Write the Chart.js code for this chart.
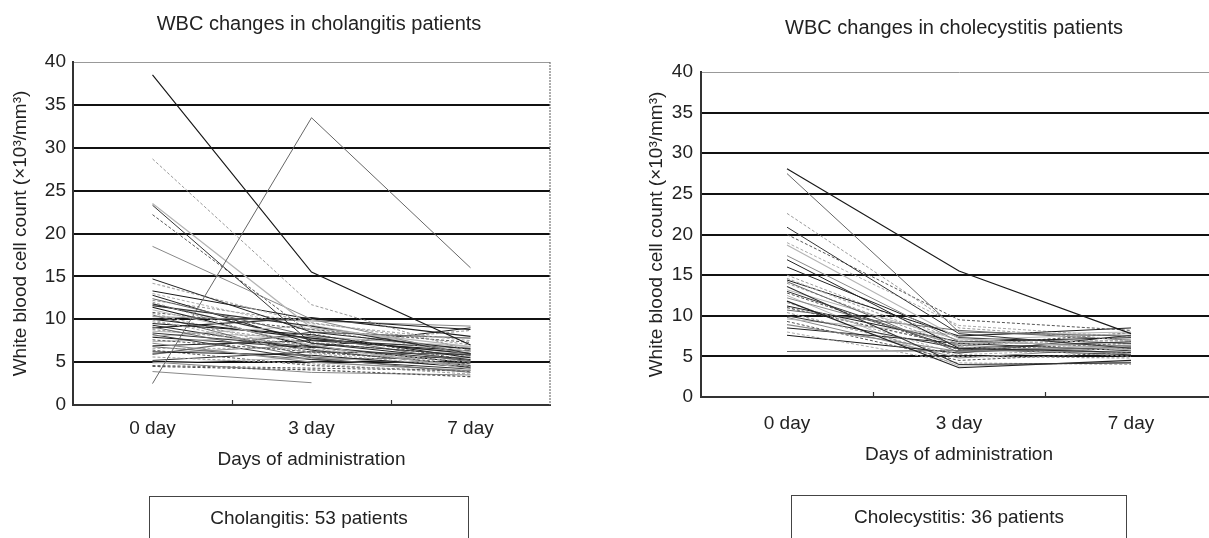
<!DOCTYPE html>
<html>
<head>
<meta charset="utf-8">
<script src="https://cdn.jsdelivr.net/npm/chart.js@4/dist/chart.umd.min.js"></script>
<style>
  html, body { margin: 0; padding: 0; background: #fff; overflow: hidden; }
  body { width: 1209px; height: 538px; position: relative; font-family: "Liberation Sans", Arial, sans-serif; }
  .wrap { position: absolute; top: 0; height: 538px; }
  #wrapLeft { left: 0; width: 638px; }
  #wrapRight { left: 600px; width: 708px; }
  .box { position: absolute; top: 496px; height: 60px; border: 1px solid #444; border-bottom: none;
         font-size: 19px; color: #222; text-align: center; line-height: 42px; box-sizing: border-box; }
  #boxLeft { left: 149px; width: 320px; }
  #boxRight { left: 791px; width: 336px; top: 495px; }
</style>
</head>
<body>
<div class="wrap" id="wrapLeft"><canvas id="leftChart"></canvas></div>
<div class="wrap" id="wrapRight"><canvas id="rightChart"></canvas></div>
<div class="box" id="boxLeft">Cholangitis: 53 patients</div>
<div class="box" id="boxRight">Cholecystitis: 36 patients</div>

<script>
// categories and tick values
const dayLabels = ["0 day", "3 day", "7 day"];
const yTickValues = [0, 5, 10, 15, 20, 25, 30, 35, 40];
const yAxisTitle = "White blood cell count (×10³/mm³)";
const xAxisTitle = "Days of administration";

// WBC per patient: [0 day, 3 day, 7 day]
const cholangitis = [
    [38.5, 15.5, 7.0], [2.5, 33.5, 16.0], [28.7, 11.7, 6.3], [23.3, 7.2, 5.8],
    [23.5, 9.0, 6.8], [22.2, 8.3, 5.2], [18.5, 10.0, 5.8], [14.7, 8.5, 6.5],
    [14.2, 9.5, 7.5], [13.3, 10.0, 8.8], [12.4, 8.0, 5.0], [12.0, 6.5, 4.6],
    [11.6, 9.2, 6.0], [11.1, 7.0, 4.2], [10.8, 8.8, 7.3], [10.3, 9.8, 9.2],
    [10.0, 7.8, 6.0], [9.9, 6.0, 4.5], [9.5, 8.2, 5.5], [9.1, 5.5, 3.8],
    [8.8, 7.0, 8.7], [8.4, 6.8, 5.2], [8.0, 9.3, 6.2], [7.6, 6.2, 4.8],
    [7.2, 5.0, 4.0], [6.9, 7.5, 6.3], [6.6, 6.6, 5.0], [6.2, 5.8, 4.4],
    [5.9, 8.5, 7.8], [5.6, 4.8, 3.6], [5.2, 6.2, 5.9], [4.9, 5.5, 4.8],
    [4.5, 4.1, 3.3], [3.9, 2.6, null], [12.8, 7.2, 5.3], [13.0, 8.8, 6.0],
    [11.4, 6.8, 4.9], [10.5, 5.6, 4.5], [9.7, 7.3, 5.7], [8.2, 5.3, 4.2],
    [7.4, 8.0, 6.8], [6.4, 4.6, 3.9], [5.0, 3.8, 3.5], [9.3, 6.4, 4.6],
    [10.7, 6.1, 5.1], [7.9, 6.7, 9.0], [6.8, 5.3, 5.6], [12.2, 9.6, 7.0],
    [11.8, 7.6, 6.6], [8.6, 7.8, 5.9], [4.6, 4.3, 4.0], [6.0, 7.0, 4.3],
    [9.0, 10.2, 8.0]
];

const cholecystitis = [
    [28.1, 15.5, 7.8], [27.5, 8.0, 7.5], [22.6, 8.5, 7.0], [20.9, 7.8, 6.0],
    [18.7, 7.2, 5.8], [20.0, 9.5, 8.2], [17.4, 6.8, 6.3], [16.9, 6.0, 5.5],
    [14.6, 6.5, 7.0], [14.4, 7.5, 8.5], [14.2, 5.5, 6.2], [14.0, 6.2, 5.0],
    [13.6, 4.0, 4.2], [13.2, 7.0, 7.8], [12.8, 5.8, 6.6], [12.2, 6.4, 5.3],
    [11.8, 3.6, 4.5], [11.6, 5.2, 6.0], [11.2, 6.8, 7.3], [10.7, 8.2, 7.0],
    [10.4, 5.0, 4.8], [10.0, 6.0, 6.8], [9.6, 7.6, 8.0], [9.3, 4.5, 5.5],
    [8.9, 5.6, 6.4], [8.5, 6.6, 5.7], [8.0, 4.2, 4.0], [7.6, 5.4, 7.6],
    [5.6, 5.7, 6.0], [15.0, 6.9, 6.9], [13.0, 5.9, 5.2], [12.5, 3.8, 4.3],
    [11.0, 6.3, 7.9], [9.8, 4.8, 6.1], [16.0, 7.3, 6.6], [19.0, 8.8, 7.4]
];

const lineShades = ["#1a1a1a", "#666", "#999", "#333", "#b5b5b5", "#555", "#888", "#222", "#aaa"];

Chart.defaults.font.family = '"Liberation Sans", Arial, sans-serif';
Chart.defaults.color = "#222";

// right frame line + small tick marks between categories
const frame = {
    id: "frame",
    afterDraw(chart) {
        const { ctx, chartArea: a, scales: { x } } = chart;
        ctx.save();
        ctx.strokeStyle = "#777";
        ctx.lineWidth = 1.2;
        ctx.setLineDash([2, 1]);
        ctx.beginPath();
        ctx.moveTo(a.right, a.top);
        ctx.lineTo(a.right, a.bottom);
        ctx.stroke();
        ctx.setLineDash([]);
        ctx.strokeStyle = "#333";
        for (let i = 0; i < dayLabels.length - 1; i++) {
            const px = Math.round((x.getPixelForValue(i) + x.getPixelForValue(i + 1)) / 2) + 0.5;
            ctx.beginPath();
            ctx.moveTo(px, a.bottom);
            ctx.lineTo(px, a.bottom - 5);
            ctx.stroke();
        }
        ctx.restore();
    }
};

function dibujarGrafico(id, patients, title, look) {
    const datasets = patients.map((p, i) => ({
        data: p,
        borderColor: lineShades[i % lineShades.length],
        borderWidth: i % 4 === 0 ? 1.2 : 1,
        borderDash: i % 3 === 2 ? [3, 2] : [],
        pointRadius: 0,
        tension: 0,
        fill: false
    }));

    return new Chart(document.getElementById(id), {
        type: "line",
        data: { labels: dayLabels, datasets },
        options: {
            responsive: true,
            maintainAspectRatio: false,
            animation: false,
            events: [],
            layout: { padding: { left: 0, right: 0, top: 0, bottom: look.bottomPad } },
            plugins: {
                legend: { display: false },
                tooltip: { enabled: false },
                title: {
                    display: true,
                    text: title,
                    color: "#222",
                    font: { size: 20, weight: "normal" },
                    padding: look.titlePad
                }
            },
            scales: {
                x: {
                    offset: true,
                    grid: { display: true, drawOnChartArea: false, drawTicks: false },
                    border: { color: "#333", width: 2 },
                    ticks: { color: "#222", font: { size: 19 }, padding: look.xTickPad },
                    title: {
                        display: true,
                        text: xAxisTitle,
                        color: "#222",
                        font: { size: 19 },
                        padding: { top: 0, bottom: look.xTitlePad }
                    },
                    afterFit: s => { s.height = 75; }
                },
                y: {
                    min: 0,
                    max: 40,
                    afterBuildTicks: s => { s.ticks = yTickValues.map(v => ({ value: v })); },
                    grid: {
                        drawTicks: false,
                        color: c => c.tick && c.tick.value === 40 ? "#999" : "#111",
                        lineWidth: c => c.tick && c.tick.value === 40 ? 1 : 2
                    },
                    border: { color: "#333", width: 2 },
                    ticks: { color: "#222", font: { size: 19 }, padding: look.yTickPad },
                    title: {
                        display: true,
                        text: yAxisTitle,
                        color: "#222",
                        font: { size: 19 },
                        padding: { top: look.yTitlePad, bottom: 0 }
                    },
                    afterFit: s => { s.width = look.yWidth; }
                },
                // empty right-hand axis: only reserves the gap right of the plot
                gap: {
                    type: "linear",
                    position: "right",
                    grid: { display: false },
                    border: { display: false },
                    ticks: { display: false },
                    afterFit: s => { s.width = look.rightGap; }
                }
            }
        },
        plugins: [frame]
    });
}

dibujarGrafico("leftChart", cholangitis, "WBC changes in cholangitis patients", {
    bottomPad: 58, rightGap: 88,
    titlePad: { top: 12, bottom: 26 },
    yWidth: 73, yTitlePad: 9, yTickPad: 7,
    xTickPad: 12, xTitlePad: 9
});

dibujarGrafico("rightChart", cholecystitis, "WBC changes in cholecystitis patients", {
    bottomPad: 66, rightGap: 91,
    titlePad: { top: 16, bottom: 32 },
    yWidth: 101, yTitlePad: 45, yTickPad: 8,
    xTickPad: 15, xTitlePad: 6
});
</script>
</body>
</html>
